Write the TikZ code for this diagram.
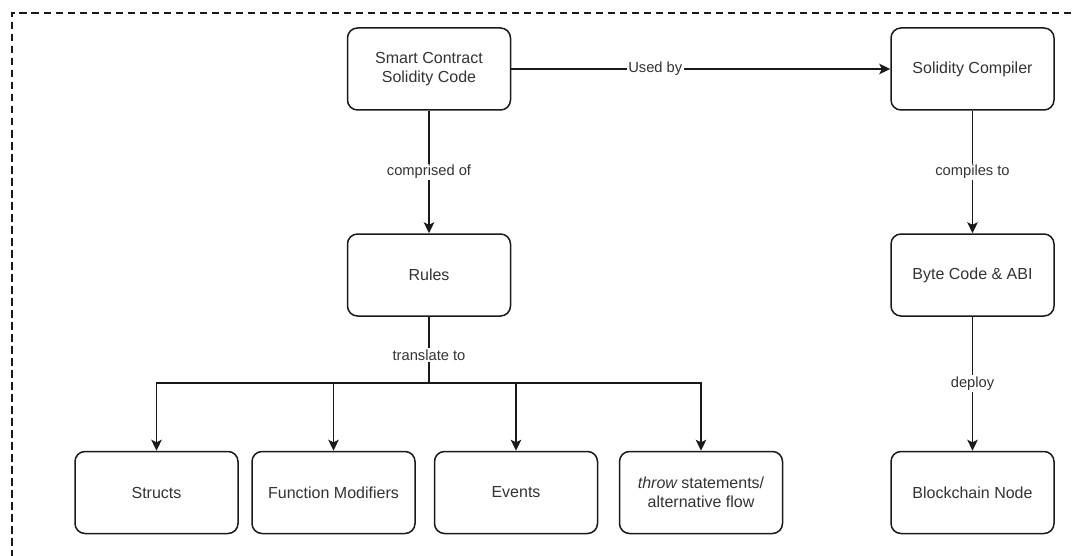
\documentclass[tikz,border=0pt]{standalone}
\usepackage{fontspec}
\setmainfont{Liberation Sans}
\usetikzlibrary{arrows.meta}
\definecolor{ink}{HTML}{1A1A1A}
\definecolor{txt}{HTML}{333333}
\tikzset{
  box/.style={draw=ink, line width=1.5pt, rounded corners=10pt, fill=white,
    minimum width=163pt, minimum height=82pt, inner sep=0pt,
    align=center, text=txt, font=\fontsize{16pt}{18.5pt}\selectfont},
  link/.style={draw=ink, line width=1.5pt,
    -{Stealth[length=11pt,width=10.5pt,inset=2.5pt]}},
  tag/.style={fill=white, text=txt, inner sep=1.5pt,
    font=\fontsize{14.7pt}{17pt}\selectfont},
  frame/.style={draw=ink, line width=2.3pt, dash pattern=on 7.5pt off 4.5pt}
}
\begin{document}
\begin{tikzpicture}[x=1pt,y=-1pt]
  \useasboundingbox (0,0) rectangle (1075,556);
  \clip (0,0) rectangle (1075,556);
  \fill[white] (0,0) rectangle (1075,556);

  % outer dashed frame, running off the right and bottom edges
  \draw[frame] (1095,13) -- (12,13) -- (12,576);

  % left column
  \node[box] (code)  at (429,69)  {Smart Contract\\Solidity Code};
  \node[box] (rules) at (429,275) {Rules};

  % right column
  \node[box] (comp)  at (972.5,69)  {Solidity Compiler};
  \node[box] (byte)  at (972.5,275) {Byte Code \& ABI};
  \node[box] (chain) at (972.5,492.5) {Blockchain Node};

  % rule translations
  \node[box] (structs) at (156.5,492.5) {Structs};
  \node[box] (mods)    at (333.5,492.5) {Function Modifiers};
  \node[box] (events)  at (516,492.5)   {Events};
  \node[box] (throw)   at (701,492.5)   {\itshape throw\upshape{} statements/\\alternative flow};

  \coordinate (br) at (429,383);

  % connectors
  \draw[link] (code) -- node[tag, pos=0.38] {Used by} (comp);
  \draw[link] (code) -- node[tag] {comprised of} (rules);
  \draw[link] (comp) -- node[tag] {compiles to} (byte);
  \draw[link] (byte) -- node[tag] {deploy} (chain);

  \draw[draw=ink, line width=1.5pt] (rules.south) -- node[tag, pos=0.58] {translate to} (br);
  \draw[link] (br) -| (structs.north);
  \draw[link] (br) -| (mods.north);
  \draw[link] (br) -| (events.north);
  \draw[link] (br) -| (throw.north);
\end{tikzpicture}
\end{document}
